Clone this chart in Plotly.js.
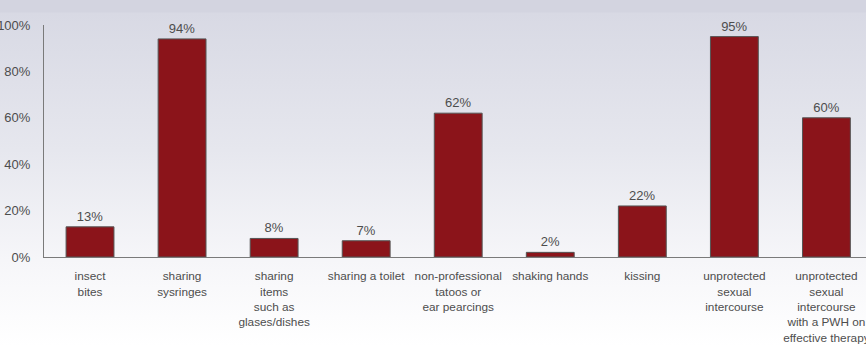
<!DOCTYPE html>
<html>
<head>
<meta charset="utf-8">
<script src="https://cdn.plot.ly/plotly-3.0.1.min.js"></script>
<style>
html,body{margin:0;padding:0;}
body{width:866px;height:346px;overflow:hidden;
background:linear-gradient(to bottom,#d3d4e0 0px,#d3d4e0 12px,#d8d9e4 13px,#e6e7ee 150px,#f6f6f9 260px,#ffffff 346px);}
#chart{width:866px;height:346px;}
</style>
</head>
<body>
<div id="chart"></div>
<script>
const categories = [
  "insect<br>bites",
  "sharing<br>sysringes",
  "sharing<br>items<br>such as<br>glases/dishes",
  "sharing a toilet",
  "non-professional<br>tatoos or<br>ear pearcings",
  "shaking hands",
  "kissing",
  "unprotected<br>sexual<br>intercourse",
  "unprotected<br>sexual<br>intercourse<br>with a PWH on<br>effective therapy"
];
const values = [13, 94, 8, 7, 62, 2, 22, 95, 60];
const valueLabels = values.map(v => v + "%");
const yTickVals = [0, 20, 40, 60, 80, 100];
const yTickText = yTickVals.map(v => v + "%");

const idx = categories.map((c, i) => i);

Plotly.newPlot("chart", [{
  type: "bar",
  x: idx,
  y: values,
  text: valueLabels,
  textposition: "outside",
  cliponaxis: false,
  textfont: {family: "Liberation Sans, Arial, sans-serif", size: 13, color: "#4d4d4d"},
  marker: {color: "#8b141a", line: {color: "#555555", width: 1}},
  hoverinfo: "none"
}], {
  width: 866, height: 346,
  paper_bgcolor: "rgba(0,0,0,0)",
  plot_bgcolor: "rgba(0,0,0,0)",
  margin: {l: 44, r: 0, t: 25, b: 89},
  bargap: 0.48,
  showlegend: false,
  font: {family: "Liberation Sans, Arial, sans-serif", color: "#4d4d4d"},
  xaxis: {
    type: "linear",
    range: [-0.5, 8.43],
    tickmode: "array",
    tickvals: idx,
    ticktext: categories,
    ticks: "",
    showgrid: false,
    zeroline: false,
    showline: true,
    linecolor: "#7a7a7a",
    linewidth: 1,
    ticklabelstandoff: 8,
    ticklabeloverflow: "allow",
    tickfont: {size: 11.8, color: "#4d4d4d"},
    fixedrange: true
  },
  yaxis: {
    range: [0, 100],
    tickmode: "array",
    tickvals: yTickVals,
    ticktext: yTickText,
    ticks: "",
    showgrid: false,
    zeroline: false,
    showline: true,
    linecolor: "#7a7a7a",
    linewidth: 1,
    ticklabelstandoff: 10,
    ticklabeloverflow: "allow",
    tickfont: {size: 13, color: "#4d4d4d"},
    fixedrange: true
  }
}, {displayModeBar: false, staticPlot: true});
</script>
</body>
</html>
